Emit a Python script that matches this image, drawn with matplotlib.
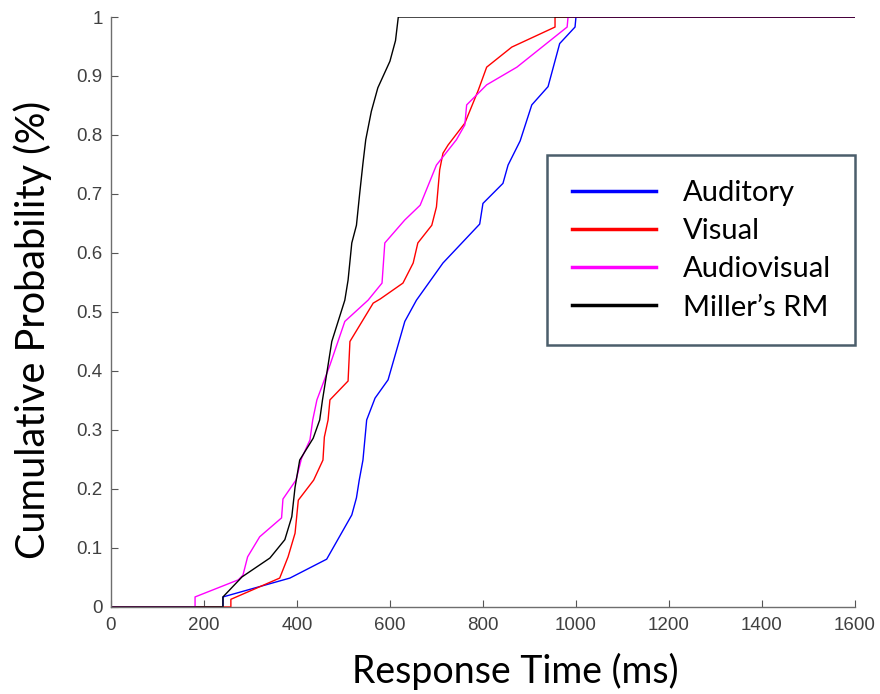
import matplotlib
matplotlib.use("Agg")
import matplotlib.pyplot as plt
from matplotlib.lines import Line2D

# cumulative distributions of response times (ms)
aud_x = [0, 241, 241, 385, 464, 518, 528, 534, 542, 550, 568, 596, 632, 657, 714, 793, 800,
         843, 854, 880, 905, 940, 965, 998, 1000, 1600]
aud_y = [0, 0, 0.017, 0.049, 0.081, 0.156, 0.185, 0.215, 0.249, 0.317, 0.354, 0.385, 0.484,
         0.520, 0.583, 0.649, 0.684, 0.718, 0.749, 0.790, 0.851, 0.882, 0.955, 0.983, 1.0, 1.0]

vis_x = [0, 258, 258, 363, 381, 396, 403, 436, 456, 459, 467, 471, 510, 514, 564, 579,
         628, 650, 660, 690, 700, 707, 714, 725, 761, 790, 808, 862, 955, 955, 1600]
vis_y = [0, 0, 0.013, 0.049, 0.085, 0.125, 0.181, 0.215, 0.249, 0.288, 0.317, 0.351,
         0.383, 0.450, 0.515, 0.522, 0.549, 0.583, 0.617, 0.647, 0.678, 0.741, 0.769,
         0.783, 0.820, 0.876, 0.915, 0.949, 0.983, 1.0, 1.0]

av_x = [0, 181, 181, 274, 284, 294, 320, 367, 370, 398, 410, 428, 434, 443, 471, 503,
        553, 583, 589, 632, 665, 700, 743, 761, 765, 808, 873, 981, 983, 1600]
av_y = [0, 0, 0.017, 0.046, 0.054, 0.085, 0.119, 0.151, 0.183, 0.215, 0.252, 0.283,
        0.317, 0.351, 0.410, 0.484, 0.520, 0.549, 0.617, 0.656, 0.681, 0.749, 0.792,
        0.817, 0.851, 0.885, 0.915, 0.983, 1.0, 1.0]

rm_x = [0, 241, 241, 282, 342, 374, 389, 396, 406, 435, 449, 455, 465, 475, 503, 510,
        518, 528, 535, 542, 548, 560, 574, 600, 612, 618, 1600]
rm_y = [0, 0, 0.017, 0.051, 0.083, 0.114, 0.153, 0.203, 0.249, 0.286, 0.317, 0.351,
        0.400, 0.450, 0.520, 0.554, 0.617, 0.647, 0.701, 0.752, 0.792, 0.840, 0.880,
        0.925, 0.960, 1.0, 1.0]

names = ["Auditory", "Visual", "Audiovisual", "Miller\u2019s RM"]
colors = ["#0000ff", "#ff0000", "#ff00ff", "#000000"]

fig = plt.figure(figsize=(8.8, 6.94), dpi=100)
ax = fig.add_axes([0.126, 0.1254, 0.8456, 0.8501])

for xs, ys, c in zip([aud_x, vis_x, av_x, rm_x], [aud_y, vis_y, av_y, rm_y], colors):
    ax.plot(xs, ys, color=c, lw=1.0)

ax.set_xlim(0, 1600)
ax.set_ylim(0, 1)
ax.set_xticks(range(0, 1601, 200))
ax.set_yticks([i / 10 for i in range(11)])
ax.set_yticklabels(["0", "0.1", "0.2", "0.3", "0.4", "0.5", "0.6", "0.7", "0.8", "0.9", "1"])

for s in ["top", "right"]:
    ax.spines[s].set_visible(False)
for s in ["left", "bottom"]:
    ax.spines[s].set_color("#6e6e6e")
    ax.spines[s].set_linewidth(1.0)
ax.tick_params(direction="in", length=5, color="#555555", labelcolor="#404040")
ax.tick_params(axis="x", pad=7)
ax.tick_params(axis="y", pad=6)
for lab in ax.get_xticklabels() + ax.get_yticklabels():
    lab.set_fontfamily("Liberation Sans")
    lab.set_fontsize(13.5)

ax.set_xlabel("Response Time (ms)", fontsize=27, family="Lato", va="center")
ax.set_ylabel("Cumulative Probability (%)", fontsize=28.5, family="Lato", va="center")
ax.xaxis.set_label_coords(0.543, -0.110)
ax.yaxis.set_label_coords(-0.105, 0.469)

handles = [Line2D([], [], color=c, lw=2.5) for c in colors]
leg = ax.legend(handles, names, loc="upper left", bbox_to_anchor=(0.586, 0.766),
                prop={"family": "Lato", "size": 21}, frameon=True, fancybox=False,
                handlelength=2.9, handletextpad=0.9, borderpad=0.85, borderaxespad=0,
                labelspacing=0.42)
leg.get_frame().set_edgecolor("#1e3646")
leg.get_frame().set_linewidth(1.8)

fig.savefig("out.png", dpi=100)
